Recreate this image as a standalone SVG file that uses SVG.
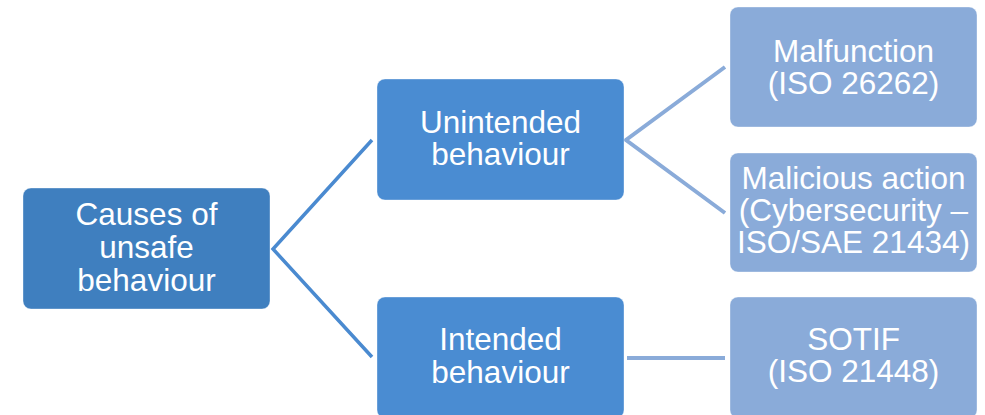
<svg xmlns="http://www.w3.org/2000/svg" width="985" height="415" viewBox="0 0 985 415">
<style>
.box{stroke:#ffffff;stroke-opacity:0.35;stroke-width:1}
.l1{fill:#3f7fbf}
.l2{fill:#4a8cd2}
.l3{fill:#8aabd9}
.t{font-family:"Liberation Sans",Arial,sans-serif;font-size:31.5px;fill:#ffffff;text-anchor:middle}
.c1{stroke:#4a8ad0;stroke-width:3.5;fill:none}
.c2{stroke:#8aabd9;stroke-width:4;fill:none}
</style>
<rect width="985" height="415" fill="#ffffff"/>
<g id="connectors">
<polyline class="c1" points="372,140 273,249 372,357"/>
<polyline class="c2" points="725,67 626,140 725,213"/>
<line class="c2" x1="627" y1="358" x2="725" y2="358"/>
</g>
<g id="root">
<rect class="box l1" x="23" y="188" width="247" height="121" rx="8"/>
<text class="t" x="146.5" y="225">Causes of</text>
<text class="t" x="146.5" y="258">unsafe</text>
<text class="t" x="146.5" y="291">behaviour</text>
</g>
<g id="unintended">
<rect class="box l2" x="377" y="79" width="247" height="121" rx="8"/>
<text class="t" x="500.5" y="133">Unintended</text>
<text class="t" x="500.5" y="165">behaviour</text>
</g>
<g id="intended">
<rect class="box l2" x="377" y="297" width="247" height="121" rx="8"/>
<text class="t" x="500.5" y="350">Intended</text>
<text class="t" x="500.5" y="383">behaviour</text>
</g>
<g id="malfunction">
<rect class="box l3" x="730" y="7" width="247" height="120" rx="8"/>
<text class="t" x="853.5" y="62">Malfunction</text>
<text class="t" x="853.5" y="94">(ISO 26262)</text>
</g>
<g id="malicious">
<rect class="box l3" x="730" y="153" width="247" height="119" rx="8"/>
<text class="t" x="853.5" y="189">Malicious action</text>
<text class="t" x="853.5" y="221">(Cybersecurity –</text>
<text class="t" x="853.5" y="253">ISO/SAE 21434)</text>
</g>
<g id="sotif">
<rect class="box l3" x="730" y="297" width="247" height="121" rx="8"/>
<text class="t" x="853.5" y="350">SOTIF</text>
<text class="t" x="853.5" y="382">(ISO 21448)</text>
</g>
</svg>
